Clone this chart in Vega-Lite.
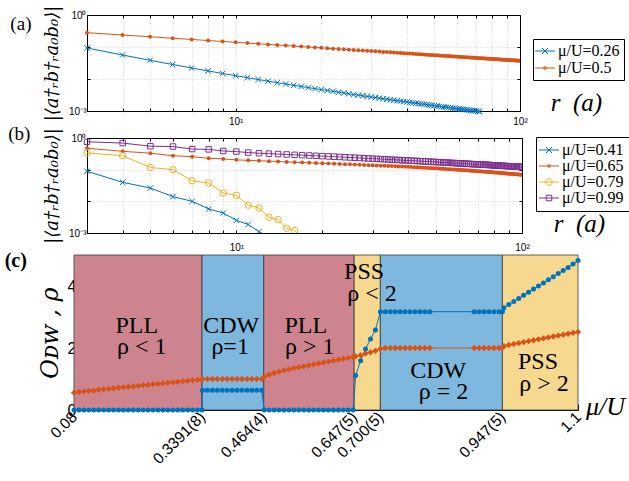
{
"$schema":"https://vega.github.io/schema/vega-lite/v6.json",
"padding":{"left":4,"top":5,"right":0,"bottom":0},
"bounds":"flush",
"spacing":22,
"resolve":{"scale":{"color":"independent","shape":"independent","fill":"independent","x":"independent","y":"independent"},"legend":{"color":"independent","shape":"independent","fill":"independent"}},
"config":{"view":{"stroke":null},"font":"Liberation Sans","axis":{"domainColor":"black","tickColor":"black","labelColor":"black","titleColor":"black","titleFontWeight":"normal","zindex":1}},
"datasets":{
"a":[
{"s":"0.26","r":3,"v":0.0933},{"s":"0.26","r":4,"v":0.0562},{"s":"0.26","r":5,"v":0.0384},{"s":"0.26","r":6,"v":0.0284},{"s":"0.26","r":7,"v":0.0221},{"s":"0.26","r":8,"v":0.0179},{"s":"0.26","r":9,"v":0.0149},{"s":"0.26","r":10,"v":0.0127},{"s":"0.26","r":11,"v":0.0110},{"s":"0.26","r":12,"v":0.00964},{"s":"0.26","r":13,"v":0.00857},{"s":"0.26","r":14,"v":0.00769},{"s":"0.26","r":15,"v":0.00697},{"s":"0.26","r":16,"v":0.00636},{"s":"0.26","r":17,"v":0.00584},{"s":"0.26","r":18,"v":0.00539},{"s":"0.26","r":19,"v":0.00500},{"s":"0.26","r":20,"v":0.00466},{"s":"0.26","r":21,"v":0.00436},{"s":"0.26","r":22,"v":0.00410},{"s":"0.26","r":23,"v":0.00386},{"s":"0.26","r":24,"v":0.00365},{"s":"0.26","r":25,"v":0.00346},{"s":"0.26","r":26,"v":0.00328},{"s":"0.26","r":27,"v":0.00313},{"s":"0.26","r":28,"v":0.00298},{"s":"0.26","r":29,"v":0.00285},{"s":"0.26","r":30,"v":0.00273},{"s":"0.26","r":31,"v":0.00262},{"s":"0.26","r":32,"v":0.00252},{"s":"0.26","r":33,"v":0.00242},{"s":"0.26","r":34,"v":0.00233},{"s":"0.26","r":35,"v":0.00225},{"s":"0.26","r":36,"v":0.00217},{"s":"0.26","r":37,"v":0.00210},{"s":"0.26","r":38,"v":0.00203},{"s":"0.26","r":39,"v":0.00197},{"s":"0.26","r":40,"v":0.00191},{"s":"0.26","r":41,"v":0.00185},{"s":"0.26","r":42,"v":0.00180},{"s":"0.26","r":43,"v":0.00175},{"s":"0.26","r":44,"v":0.00170},{"s":"0.26","r":45,"v":0.00166},{"s":"0.26","r":46,"v":0.00162},{"s":"0.26","r":47,"v":0.00158},{"s":"0.26","r":48,"v":0.00154},{"s":"0.26","r":49,"v":0.00150},{"s":"0.26","r":50,"v":0.00147},{"s":"0.26","r":51,"v":0.00143},{"s":"0.26","r":52,"v":0.00140},{"s":"0.26","r":53,"v":0.00137},{"s":"0.26","r":54,"v":0.00134},{"s":"0.26","r":55,"v":0.00131},{"s":"0.26","r":56,"v":0.00129},{"s":"0.26","r":57,"v":0.00126},{"s":"0.26","r":58,"v":0.00124},{"s":"0.26","r":59,"v":0.00121},{"s":"0.26","r":60,"v":0.00119},{"s":"0.26","r":61,"v":0.00117},{"s":"0.26","r":62,"v":0.00115},{"s":"0.26","r":63,"v":0.00113},{"s":"0.26","r":64,"v":0.00111},{"s":"0.26","r":65,"v":0.00109},{"s":"0.26","r":66,"v":0.00107},{"s":"0.26","r":67,"v":0.00105},{"s":"0.26","r":68,"v":0.00104},{"s":"0.26","r":69,"v":0.00102},{"s":"0.26","r":70,"v":0.001005},{"s":"0.26","r":71,"v":0.00099},{"s":"0.26","r":72,"v":0.000975},
{"s":"0.5","r":3,"v":0.280},{"s":"0.5","r":4,"v":0.237},{"s":"0.5","r":5,"v":0.209},{"s":"0.5","r":6,"v":0.188},{"s":"0.5","r":7,"v":0.172},{"s":"0.5","r":8,"v":0.159},{"s":"0.5","r":9,"v":0.149},{"s":"0.5","r":10,"v":0.140},{"s":"0.5","r":11,"v":0.1325},{"s":"0.5","r":12,"v":0.126},{"s":"0.5","r":13,"v":0.1204},{"s":"0.5","r":14,"v":0.1153},{"s":"0.5","r":15,"v":0.1108},{"s":"0.5","r":16,"v":0.1068},{"s":"0.5","r":17,"v":0.1031},{"s":"0.5","r":18,"v":0.0998},{"s":"0.5","r":19,"v":0.0967},{"s":"0.5","r":20,"v":0.0939},{"s":"0.5","r":21,"v":0.0913},{"s":"0.5","r":22,"v":0.0889},{"s":"0.5","r":23,"v":0.0867},{"s":"0.5","r":24,"v":0.0846},{"s":"0.5","r":25,"v":0.0826},{"s":"0.5","r":26,"v":0.0808},{"s":"0.5","r":27,"v":0.0790},{"s":"0.5","r":28,"v":0.0774},{"s":"0.5","r":29,"v":0.0758},{"s":"0.5","r":30,"v":0.0744},{"s":"0.5","r":31,"v":0.0730},{"s":"0.5","r":32,"v":0.0717},{"s":"0.5","r":33,"v":0.0704},{"s":"0.5","r":34,"v":0.0692},{"s":"0.5","r":35,"v":0.0680},{"s":"0.5","r":36,"v":0.0670},{"s":"0.5","r":37,"v":0.0659},{"s":"0.5","r":38,"v":0.0649},{"s":"0.5","r":39,"v":0.0639},{"s":"0.5","r":40,"v":0.0630},{"s":"0.5","r":41,"v":0.0621},{"s":"0.5","r":42,"v":0.0613},{"s":"0.5","r":43,"v":0.0604},{"s":"0.5","r":44,"v":0.0596},{"s":"0.5","r":45,"v":0.0589},{"s":"0.5","r":46,"v":0.0581},{"s":"0.5","r":47,"v":0.0574},{"s":"0.5","r":48,"v":0.0567},{"s":"0.5","r":49,"v":0.0560},{"s":"0.5","r":50,"v":0.0554},{"s":"0.5","r":51,"v":0.0548},{"s":"0.5","r":52,"v":0.0542},{"s":"0.5","r":53,"v":0.0536},{"s":"0.5","r":54,"v":0.0530},{"s":"0.5","r":55,"v":0.0524},{"s":"0.5","r":56,"v":0.0519},{"s":"0.5","r":57,"v":0.0514},{"s":"0.5","r":58,"v":0.0509},{"s":"0.5","r":59,"v":0.0504},{"s":"0.5","r":60,"v":0.0499},{"s":"0.5","r":61,"v":0.0494},{"s":"0.5","r":62,"v":0.0489},{"s":"0.5","r":63,"v":0.0485},{"s":"0.5","r":64,"v":0.0480},{"s":"0.5","r":65,"v":0.0476},{"s":"0.5","r":66,"v":0.0472},{"s":"0.5","r":67,"v":0.0468},{"s":"0.5","r":68,"v":0.0464},{"s":"0.5","r":69,"v":0.0460},{"s":"0.5","r":70,"v":0.0456},{"s":"0.5","r":71,"v":0.0453},{"s":"0.5","r":72,"v":0.0449},{"s":"0.5","r":73,"v":0.0445},{"s":"0.5","r":74,"v":0.0442},{"s":"0.5","r":75,"v":0.0439},{"s":"0.5","r":76,"v":0.0435},{"s":"0.5","r":77,"v":0.0432},{"s":"0.5","r":78,"v":0.0429},{"s":"0.5","r":79,"v":0.0426},{"s":"0.5","r":80,"v":0.0423},{"s":"0.5","r":81,"v":0.0420},{"s":"0.5","r":82,"v":0.0417},{"s":"0.5","r":83,"v":0.0414},{"s":"0.5","r":84,"v":0.0411},{"s":"0.5","r":85,"v":0.0408},{"s":"0.5","r":86,"v":0.0405},{"s":"0.5","r":87,"v":0.0403},{"s":"0.5","r":88,"v":0.0400},{"s":"0.5","r":89,"v":0.0397},{"s":"0.5","r":90,"v":0.0395},{"s":"0.5","r":91,"v":0.0392},{"s":"0.5","r":92,"v":0.0390},{"s":"0.5","r":93,"v":0.0388},{"s":"0.5","r":94,"v":0.0385},{"s":"0.5","r":95,"v":0.0383},{"s":"0.5","r":96,"v":0.0381},{"s":"0.5","r":97,"v":0.0378},{"s":"0.5","r":98,"v":0.0376},{"s":"0.5","r":99,"v":0.0374},{"s":"0.5","r":100,"v":0.0372}
],
"b":[
{"s":"0.41","r":3,"v":0.0891},{"s":"0.41","r":4,"v":0.0398},{"s":"0.41","r":5,"v":0.0263},{"s":"0.41","r":6,"v":0.0141},{"s":"0.41","r":7,"v":0.0100},{"s":"0.41","r":8,"v":0.00575},{"s":"0.41","r":9,"v":0.00427},{"s":"0.41","r":10,"v":0.00251},{"s":"0.41","r":11,"v":0.00186},{"s":"0.41","r":12,"v":0.00110},{"s":"0.41","r":13,"v":0.000759},{"s":"0.41","r":14,"v":0.000562},
{"s":"0.65","r":3,"v":0.473},{"s":"0.65","r":4,"v":0.380},{"s":"0.65","r":5,"v":0.331},{"s":"0.65","r":6,"v":0.275},{"s":"0.65","r":7,"v":0.257},{"s":"0.65","r":8,"v":0.229},{"s":"0.65","r":9,"v":0.219},{"s":"0.65","r":10,"v":0.204},{"s":"0.65","r":11,"v":0.197},{"s":"0.65","r":12,"v":0.191},{"s":"0.65","r":13,"v":0.186},{"s":"0.65","r":14,"v":0.181},{"s":"0.65","r":15,"v":0.176},{"s":"0.65","r":16,"v":0.172},{"s":"0.65","r":17,"v":0.169},{"s":"0.65","r":18,"v":0.165},{"s":"0.65","r":19,"v":0.162},{"s":"0.65","r":20,"v":0.159},{"s":"0.65","r":21,"v":0.156},{"s":"0.65","r":22,"v":0.154},{"s":"0.65","r":23,"v":0.151},{"s":"0.65","r":24,"v":0.149},{"s":"0.65","r":25,"v":0.147},{"s":"0.65","r":26,"v":0.145},{"s":"0.65","r":27,"v":0.143},{"s":"0.65","r":28,"v":0.141},{"s":"0.65","r":29,"v":0.139},{"s":"0.65","r":30,"v":0.137},{"s":"0.65","r":31,"v":0.136},{"s":"0.65","r":32,"v":0.134},{"s":"0.65","r":33,"v":0.133},{"s":"0.65","r":34,"v":0.131},{"s":"0.65","r":35,"v":0.130},{"s":"0.65","r":36,"v":0.128},{"s":"0.65","r":37,"v":0.127},{"s":"0.65","r":38,"v":0.125},{"s":"0.65","r":39,"v":0.124},{"s":"0.65","r":40,"v":0.123},{"s":"0.65","r":41,"v":0.121},{"s":"0.65","r":42,"v":0.120},{"s":"0.65","r":43,"v":0.119},{"s":"0.65","r":44,"v":0.117},{"s":"0.65","r":45,"v":0.116},{"s":"0.65","r":46,"v":0.115},{"s":"0.65","r":47,"v":0.113},{"s":"0.65","r":48,"v":0.112},{"s":"0.65","r":49,"v":0.111},{"s":"0.65","r":50,"v":0.110},{"s":"0.65","r":51,"v":0.109},{"s":"0.65","r":52,"v":0.107},{"s":"0.65","r":53,"v":0.106},{"s":"0.65","r":54,"v":0.105},{"s":"0.65","r":55,"v":0.104},{"s":"0.65","r":56,"v":0.103},{"s":"0.65","r":57,"v":0.102},{"s":"0.65","r":58,"v":0.101},{"s":"0.65","r":59,"v":0.0999},{"s":"0.65","r":60,"v":0.0989},{"s":"0.65","r":61,"v":0.0979},{"s":"0.65","r":62,"v":0.0969},{"s":"0.65","r":63,"v":0.0959},{"s":"0.65","r":64,"v":0.0950},{"s":"0.65","r":65,"v":0.0940},{"s":"0.65","r":66,"v":0.0931},{"s":"0.65","r":67,"v":0.0922},{"s":"0.65","r":68,"v":0.0913},{"s":"0.65","r":69,"v":0.0904},{"s":"0.65","r":70,"v":0.0896},{"s":"0.65","r":71,"v":0.0887},{"s":"0.65","r":72,"v":0.0879},{"s":"0.65","r":73,"v":0.0871},{"s":"0.65","r":74,"v":0.0863},{"s":"0.65","r":75,"v":0.0855},{"s":"0.65","r":76,"v":0.0847},{"s":"0.65","r":77,"v":0.0839},{"s":"0.65","r":78,"v":0.0831},{"s":"0.65","r":79,"v":0.0823},{"s":"0.65","r":80,"v":0.0816},{"s":"0.65","r":81,"v":0.0809},{"s":"0.65","r":82,"v":0.0801},{"s":"0.65","r":83,"v":0.0794},{"s":"0.65","r":84,"v":0.0787},{"s":"0.65","r":85,"v":0.0780},{"s":"0.65","r":86,"v":0.0774},{"s":"0.65","r":87,"v":0.0767},{"s":"0.65","r":88,"v":0.0760},{"s":"0.65","r":89,"v":0.0754},{"s":"0.65","r":90,"v":0.0748},{"s":"0.65","r":91,"v":0.0741},{"s":"0.65","r":92,"v":0.0735},{"s":"0.65","r":93,"v":0.0729},{"s":"0.65","r":94,"v":0.0723},{"s":"0.65","r":95,"v":0.0717},{"s":"0.65","r":96,"v":0.0711},{"s":"0.65","r":97,"v":0.0705},{"s":"0.65","r":98,"v":0.0699},{"s":"0.65","r":99,"v":0.0694},{"s":"0.65","r":100,"v":0.0688},
{"s":"0.79","r":3,"v":0.339},{"s":"0.79","r":4,"v":0.275},{"s":"0.79","r":5,"v":0.1175},{"s":"0.79","r":6,"v":0.100},{"s":"0.79","r":7,"v":0.0447},{"s":"0.79","r":8,"v":0.0380},{"s":"0.79","r":9,"v":0.0182},{"s":"0.79","r":10,"v":0.0155},{"s":"0.79","r":11,"v":0.00759},{"s":"0.79","r":12,"v":0.00617},{"s":"0.79","r":13,"v":0.00316},{"s":"0.79","r":14,"v":0.00263},{"s":"0.79","r":15,"v":0.00141},{"s":"0.79","r":16,"v":0.00120},{"s":"0.79","r":17,"v":0.00063},{"s":"0.79","r":18,"v":0.00054},
{"s":"0.99","r":3,"v":0.759},{"s":"0.99","r":4,"v":0.692},{"s":"0.99","r":5,"v":0.550},{"s":"0.99","r":6,"v":0.537},{"s":"0.99","r":7,"v":0.447},{"s":"0.99","r":8,"v":0.437},{"s":"0.99","r":9,"v":0.389},{"s":"0.99","r":10,"v":0.372},{"s":"0.99","r":11,"v":0.347},{"s":"0.99","r":12,"v":0.331},{"s":"0.99","r":13,"v":0.321},{"s":"0.99","r":14,"v":0.311},{"s":"0.99","r":15,"v":0.302},{"s":"0.99","r":16,"v":0.294},{"s":"0.99","r":17,"v":0.287},{"s":"0.99","r":18,"v":0.280},{"s":"0.99","r":19,"v":0.274},{"s":"0.99","r":20,"v":0.268},{"s":"0.99","r":21,"v":0.262},{"s":"0.99","r":22,"v":0.257},{"s":"0.99","r":23,"v":0.252},{"s":"0.99","r":24,"v":0.247},{"s":"0.99","r":25,"v":0.242},{"s":"0.99","r":26,"v":0.238},{"s":"0.99","r":27,"v":0.234},{"s":"0.99","r":28,"v":0.230},{"s":"0.99","r":29,"v":0.226},{"s":"0.99","r":30,"v":0.223},{"s":"0.99","r":31,"v":0.220},{"s":"0.99","r":32,"v":0.216},{"s":"0.99","r":33,"v":0.213},{"s":"0.99","r":34,"v":0.210},{"s":"0.99","r":35,"v":0.207},{"s":"0.99","r":36,"v":0.205},{"s":"0.99","r":37,"v":0.202},{"s":"0.99","r":38,"v":0.199},{"s":"0.99","r":39,"v":0.197},{"s":"0.99","r":40,"v":0.195},{"s":"0.99","r":41,"v":0.192},{"s":"0.99","r":42,"v":0.190},{"s":"0.99","r":43,"v":0.188},{"s":"0.99","r":44,"v":0.186},{"s":"0.99","r":45,"v":0.184},{"s":"0.99","r":46,"v":0.182},{"s":"0.99","r":47,"v":0.180},{"s":"0.99","r":48,"v":0.178},{"s":"0.99","r":49,"v":0.176},{"s":"0.99","r":50,"v":0.174},{"s":"0.99","r":51,"v":0.173},{"s":"0.99","r":52,"v":0.171},{"s":"0.99","r":53,"v":0.169},{"s":"0.99","r":54,"v":0.168},{"s":"0.99","r":55,"v":0.166},{"s":"0.99","r":56,"v":0.165},{"s":"0.99","r":57,"v":0.163},{"s":"0.99","r":58,"v":0.162},{"s":"0.99","r":59,"v":0.160},{"s":"0.99","r":60,"v":0.159},{"s":"0.99","r":61,"v":0.158},{"s":"0.99","r":62,"v":0.156},{"s":"0.99","r":63,"v":0.155},{"s":"0.99","r":64,"v":0.154},{"s":"0.99","r":65,"v":0.153},{"s":"0.99","r":66,"v":0.151},{"s":"0.99","r":67,"v":0.150},{"s":"0.99","r":68,"v":0.149},{"s":"0.99","r":69,"v":0.148},{"s":"0.99","r":70,"v":0.147},{"s":"0.99","r":71,"v":0.146},{"s":"0.99","r":72,"v":0.145},{"s":"0.99","r":73,"v":0.144},{"s":"0.99","r":74,"v":0.143},{"s":"0.99","r":75,"v":0.142},{"s":"0.99","r":76,"v":0.141},{"s":"0.99","r":77,"v":0.140},{"s":"0.99","r":78,"v":0.139},{"s":"0.99","r":79,"v":0.138},{"s":"0.99","r":80,"v":0.137},{"s":"0.99","r":81,"v":0.136},{"s":"0.99","r":82,"v":0.135},{"s":"0.99","r":83,"v":0.134},{"s":"0.99","r":84,"v":0.133},{"s":"0.99","r":85,"v":0.132},{"s":"0.99","r":86,"v":0.1316},{"s":"0.99","r":87,"v":0.131},{"s":"0.99","r":88,"v":0.130},{"s":"0.99","r":89,"v":0.129},{"s":"0.99","r":90,"v":0.128},{"s":"0.99","r":91,"v":0.1277},{"s":"0.99","r":92,"v":0.127},{"s":"0.99","r":93,"v":0.126},{"s":"0.99","r":94,"v":0.125},{"s":"0.99","r":95,"v":0.1247},{"s":"0.99","r":96,"v":0.124},{"s":"0.99","r":97,"v":0.123},{"s":"0.99","r":98,"v":0.1226},{"s":"0.99","r":99,"v":0.122},{"s":"0.99","r":100,"v":0.121}
],
"c":[
{"m":0.08,"o":0,"p":0.56},{"m":0.09,"o":0,"p":0.58},{"m":0.10,"o":0,"p":0.60},{"m":0.11,"o":0,"p":0.62},{"m":0.12,"o":0,"p":0.63},{"m":0.13,"o":0,"p":0.65},{"m":0.14,"o":0,"p":0.67},{"m":0.15,"o":0,"p":0.68},{"m":0.16,"o":0,"p":0.70},{"m":0.17,"o":0,"p":0.72},{"m":0.18,"o":0,"p":0.73},{"m":0.19,"o":0,"p":0.75},{"m":0.20,"o":0,"p":0.76},{"m":0.21,"o":0,"p":0.78},{"m":0.22,"o":0,"p":0.80},{"m":0.23,"o":0,"p":0.81},{"m":0.24,"o":0,"p":0.83},{"m":0.25,"o":0,"p":0.84},{"m":0.26,"o":0,"p":0.86},{"m":0.27,"o":0,"p":0.88},{"m":0.28,"o":0,"p":0.89},{"m":0.29,"o":0,"p":0.91},{"m":0.30,"o":0,"p":0.93},{"m":0.31,"o":0,"p":0.94},{"m":0.32,"o":0,"p":0.96},{"m":0.33,"o":0,"p":0.97},{"m":0.339,"o":0,"p":0.99},
{"m":0.34,"o":0.64,"p":1.0},{"m":0.35,"o":0.64,"p":1.0},{"m":0.36,"o":0.64,"p":1.0},{"m":0.37,"o":0.64,"p":1.0},{"m":0.38,"o":0.64,"p":1.0},{"m":0.39,"o":0.64,"p":1.0},{"m":0.40,"o":0.64,"p":1.0},{"m":0.41,"o":0.64,"p":1.0},{"m":0.42,"o":0.64,"p":1.0},{"m":0.43,"o":0.64,"p":1.0},{"m":0.44,"o":0.64,"p":1.0},{"m":0.45,"o":0.64,"p":1.0},{"m":0.46,"o":0.64,"p":1.0},
{"m":0.465,"o":0,"p":1.07},{"m":0.475,"o":0,"p":1.14},{"m":0.485,"o":0,"p":1.19},{"m":0.495,"o":0,"p":1.24},{"m":0.505,"o":0,"p":1.28},{"m":0.515,"o":0,"p":1.31},{"m":0.525,"o":0,"p":1.35},{"m":0.535,"o":0,"p":1.38},{"m":0.545,"o":0,"p":1.41},{"m":0.555,"o":0,"p":1.44},{"m":0.565,"o":0,"p":1.47},{"m":0.575,"o":0,"p":1.50},{"m":0.585,"o":0,"p":1.53},{"m":0.595,"o":0,"p":1.56},{"m":0.605,"o":0,"p":1.59},{"m":0.615,"o":0,"p":1.62},{"m":0.625,"o":0,"p":1.65},{"m":0.635,"o":0,"p":1.68},{"m":0.645,"o":0,"p":1.71},
{"m":0.65,"o":1.11,"p":1.73},{"m":0.66,"o":1.59,"p":1.77},{"m":0.67,"o":1.97,"p":1.82},{"m":0.68,"o":2.29,"p":1.86},{"m":0.69,"o":2.58,"p":1.91},{"m":0.70,"o":3.17,"p":1.97},
{"m":0.71,"o":3.17,"p":2.0},{"m":0.72,"o":3.17,"p":2.0},{"m":0.73,"o":3.17,"p":2.0},{"m":0.74,"o":3.17,"p":2.0},{"m":0.75,"o":3.17,"p":2.0},{"m":0.76,"o":3.17,"p":2.0},{"m":0.77,"o":3.17,"p":2.0},{"m":0.78,"o":3.17,"p":2.0},{"m":0.79,"o":3.17,"p":2.0},{"m":0.80,"o":3.17,"p":2.0},
{"m":0.89,"o":3.17,"p":2.0},{"m":0.90,"o":3.17,"p":2.0},{"m":0.91,"o":3.17,"p":2.0},{"m":0.92,"o":3.17,"p":2.0},{"m":0.93,"o":3.17,"p":2.0},{"m":0.94,"o":3.17,"p":2.0},{"m":0.947,"o":3.17,"p":2.01},
{"m":0.95,"o":3.30,"p":2.06},{"m":0.96,"o":3.40,"p":2.10},{"m":0.97,"o":3.50,"p":2.13},{"m":0.98,"o":3.60,"p":2.16},{"m":0.99,"o":3.70,"p":2.19},{"m":1.00,"o":3.80,"p":2.22},{"m":1.01,"o":3.90,"p":2.25},{"m":1.02,"o":4.00,"p":2.28},{"m":1.03,"o":4.10,"p":2.31},{"m":1.04,"o":4.20,"p":2.34},{"m":1.05,"o":4.30,"p":2.37},{"m":1.06,"o":4.40,"p":2.40},{"m":1.07,"o":4.50,"p":2.43},{"m":1.08,"o":4.60,"p":2.46},{"m":1.09,"o":4.71,"p":2.49},{"m":1.10,"o":4.82,"p":2.52}
],
"reg":[{"x0":0.08,"x1":0.3391,"ph":"PLL"},{"x0":0.3391,"x1":0.464,"ph":"CDW"},{"x0":0.464,"x1":0.647,"ph":"PLL"},{"x0":0.647,"x1":0.7,"ph":"PSS"},{"x0":0.7,"x1":0.947,"ph":"CDW"},{"x0":0.947,"x1":1.1,"ph":"PSS"}],
"lab":[{"t":"PLL","m":0.207,"y":2.71},{"t":"ρ < 1","m":0.217,"y":2.03},{"t":"CDW","m":0.398,"y":2.71},{"t":"ρ=1","m":0.396,"y":2.03},{"t":"PLL","m":0.549,"y":2.71},{"t":"ρ > 1","m":0.557,"y":2.03},{"t":"PSS","m":0.667,"y":4.45},{"t":"ρ < 2","m":0.683,"y":3.74},{"t":"CDW","m":0.817,"y":1.26},{"t":"ρ = 2","m":0.828,"y":0.58},{"t":"PSS","m":1.019,"y":1.55},{"t":"ρ > 2","m":1.031,"y":0.84}]
},
"vconcat":[
{
"width":446,"height":101,
"title":{"text":"(a)","orient":"left","angle":0,"anchor":"end","frame":"group","align":"right","baseline":"top","offset":-9,"font":"Liberation Serif","fontSize":19,"fontWeight":"normal","color":"black"},
"data":{"name":"a"},
"resolve":{"axis":{"x":"independent","y":"independent"}},
"layer":[
{"transform":[{"filter":"datum.r==3"}],
"mark":{"type":"point","size":0,"filled":false,"strokeWidth":1,"opacity":1},
"encoding":{
"x":{"field":"r","type":"quantitative","scale":{"type":"log","domain":[3,100],"range":[13,446],"nice":false},"axis":null},
"y":{"field":"v","type":"quantitative","scale":{"type":"log","domain":[0.001,1],"range":[96,0],"nice":false},"axis":null},
"color":{"field":"s","type":"nominal","scale":{"domain":["0.26","0.5"],"range":["#0072BD","#D95319"]},"legend":{"orient":"none","legendX":459,"legendY":24,"title":null,"strokeColor":"black","fillColor":"white","padding":4,"rowPadding":1,"symbolSize":225,"symbolStrokeWidth":1,"symbolOpacity":1,"symbolFillColor":"transparent","labelFont":"Liberation Serif","labelFontSize":16,"labelOffset":5,"labelExpr":"'μ/U=' + datum.label"}},
"shape":{"field":"s","type":"nominal","scale":{"domain":["0.26","0.5"],"range":["M-1.33,0H1.33M-0.4,-0.4L0.4,0.4M-0.4,0.4L0.4,-0.4","M-1.33,0H1.33M-0.18,0A0.18,0.18,0,1,0,0.18,0A0.18,0.18,0,1,0,-0.18,0"]},"legend":{"orient":"none","legendX":459,"legendY":24,"title":null,"strokeColor":"black","fillColor":"white","padding":4,"rowPadding":1,"symbolSize":225,"symbolStrokeWidth":1,"symbolOpacity":1,"symbolFillColor":"transparent","labelFont":"Liberation Serif","labelFontSize":16,"labelOffset":5,"labelExpr":"'μ/U=' + datum.label"}}}},
{"mark":{"type":"line","strokeWidth":1,"clip":true},
"encoding":{
"x":{"field":"r","type":"quantitative","axis":{"values":[3,4,5,6,7,8,9,10,20,30,40,50,60,70,80,90,100],"labelExpr":"datum.value==10?'10¹':datum.value==100?'10²':''","grid":true,"gridColor":"#d0d0d0","gridDash":[1,2],"tickSize":-3,"labelFontSize":10,"labelFlush":false,"labelOverlap":false,"labelPadding":8,"offset":-5,"title":"r\u2002(a)","titleFont":"Liberation Serif","titleFontStyle":"italic","titleFontSize":25,"titleX":502,"titleY":-1,"titleAlign":"center","titleBaseline":"alphabetic"}},
"y":{"field":"v","type":"quantitative","axis":{"values":[0.001,0.01,0.1,1],"labelExpr":"datum.value==1?'10⁰':datum.value==0.001?'10⁻³':''","grid":true,"gridColor":"#d0d0d0","gridDash":[1,2],"tickSize":-3,"labelFontSize":10,"labelFlush":false,"labelOverlap":false,"labelPadding":4,"offset":-13,"title":"|⟨a†ᵣb†ᵣa₀b₀⟩|","titleFont":"DejaVu Serif","titleFontStyle":"italic","titleFontSize":18,"titlePadding":7}},
"color":{"field":"s","type":"nominal"}}},
{"transform":[{"filter":"datum.s=='0.26'"}],
"mark":{"type":"point","shape":"M-1,-1L1,1M-1,1L1,-1","size":30,"filled":false,"strokeWidth":1,"opacity":1,"clip":true},
"encoding":{
"x":{"field":"r","type":"quantitative","axis":{"orient":"top","values":[3,4,5,6,7,8,9,10,20,30,40,50,60,70,80,90,100],"labels":false,"grid":false,"tickSize":-3,"title":null}},
"y":{"field":"v","type":"quantitative","axis":{"orient":"right","values":[0.001,0.01,0.1,1],"labels":false,"grid":false,"tickSize":-3,"title":null}},
"color":{"field":"s","type":"nominal"}}},
{"transform":[{"filter":"datum.s=='0.5'"}],
"mark":{"type":"point","shape":"circle","size":4,"filled":false,"strokeWidth":2,"opacity":1,"clip":true},
"encoding":{
"x":{"field":"r","type":"quantitative","axis":null},
"y":{"field":"v","type":"quantitative","axis":null},
"color":{"field":"s","type":"nominal"}}}
]
},
{
"width":448,"height":95,
"title":{"text":"(b)","orient":"left","angle":0,"anchor":"end","frame":"group","align":"right","baseline":"top","offset":-9,"dy":-13,"font":"Liberation Serif","fontSize":19,"fontWeight":"normal","color":"black"},
"data":{"name":"b"},
"resolve":{"axis":{"x":"independent","y":"independent"}},
"layer":[
{"transform":[{"filter":"datum.r==3"}],
"mark":{"type":"point","size":0,"filled":false,"strokeWidth":1,"opacity":1},
"encoding":{
"x":{"field":"r","type":"quantitative","scale":{"type":"log","domain":[3,100],"range":[13,448],"nice":false},"axis":null},
"y":{"field":"v","type":"quantitative","scale":{"type":"log","domain":[0.001,1],"nice":false},"axis":null},
"color":{"field":"s","type":"nominal","scale":{"domain":["0.41","0.65","0.79","0.99"],"range":["#0072BD","#D95319","#EDB120","#7E2F8E"]},"legend":{"orient":"none","legendX":462,"legendY":-1,"title":null,"strokeColor":"black","fillColor":"white","padding":5,"rowPadding":-1,"symbolSize":225,"symbolStrokeWidth":1,"symbolOpacity":1,"symbolFillColor":"transparent","labelFont":"Liberation Serif","labelFontSize":16,"labelOffset":5,"labelExpr":"'μ/U=' + datum.label"}},
"shape":{"field":"s","type":"nominal","scale":{"domain":["0.41","0.65","0.79","0.99"],"range":["M-1.33,0H1.33M-0.4,-0.4L0.4,0.4M-0.4,0.4L0.4,-0.4","M-1.33,0H1.33M-0.18,0A0.18,0.18,0,1,0,0.18,0A0.18,0.18,0,1,0,-0.18,0","M-1.33,0H1.33M-0.44,0A0.44,0.44,0,1,0,0.44,0A0.44,0.44,0,1,0,-0.44,0","M-1.33,0H1.33M-0.37,-0.37H0.37V0.37H-0.37Z"]},"legend":{"orient":"none","legendX":462,"legendY":-1,"title":null,"strokeColor":"black","fillColor":"white","padding":5,"rowPadding":-1,"symbolSize":225,"symbolStrokeWidth":1,"symbolOpacity":1,"symbolFillColor":"transparent","labelFont":"Liberation Serif","labelFontSize":16,"labelOffset":5,"labelExpr":"'μ/U=' + datum.label"}}}},
{"mark":{"type":"line","strokeWidth":1,"clip":true},
"encoding":{
"x":{"field":"r","type":"quantitative","axis":{"values":[3,4,5,6,7,8,9,10,20,30,40,50,60,70,80,90,100],"labelExpr":"datum.value==10?'10¹':datum.value==100?'10²':''","grid":true,"gridColor":"#d0d0d0","gridDash":[1,2],"tickSize":-3,"labelFontSize":10,"labelFlush":false,"labelOverlap":false,"labelPadding":12,"title":"r\u2002(a)","titleFont":"Liberation Serif","titleFontStyle":"italic","titleFontSize":25,"titleX":505,"titleY":-2,"titleAlign":"center","titleBaseline":"alphabetic"}},
"y":{"field":"v","type":"quantitative","axis":{"values":[0.001,0.01,0.1,1],"labelExpr":"datum.value==1?'10⁰':datum.value==0.001?'10⁻³':''","grid":true,"gridColor":"#d0d0d0","gridDash":[1,2],"tickSize":-3,"labelFontSize":10,"labelFlush":false,"labelOverlap":false,"labelPadding":4,"offset":-13,"title":"|⟨a†ᵣb†ᵣa₀b₀⟩|","titleFont":"DejaVu Serif","titleFontStyle":"italic","titleFontSize":18,"titlePadding":7}},
"color":{"field":"s","type":"nominal"}}},
{"transform":[{"filter":"datum.s=='0.41'"}],
"mark":{"type":"point","shape":"M-1,-1L1,1M-1,1L1,-1","size":30,"filled":false,"strokeWidth":1,"opacity":1,"clip":true},
"encoding":{
"x":{"field":"r","type":"quantitative","axis":{"orient":"top","values":[3,4,5,6,7,8,9,10,20,30,40,50,60,70,80,90,100],"labels":false,"grid":false,"tickSize":-3,"title":null}},
"y":{"field":"v","type":"quantitative","axis":{"orient":"right","values":[0.001,0.01,0.1,1],"labels":false,"grid":false,"tickSize":-3,"title":null}},
"color":{"field":"s","type":"nominal"}}},
{"transform":[{"filter":"datum.s=='0.65'"}],
"mark":{"type":"point","shape":"circle","size":4,"filled":false,"strokeWidth":2,"opacity":1,"clip":true},
"encoding":{"x":{"field":"r","type":"quantitative","axis":null},"y":{"field":"v","type":"quantitative","axis":null},"color":{"field":"s","type":"nominal"}}},
{"transform":[{"filter":"datum.s=='0.79'"}],
"mark":{"type":"point","shape":"circle","size":42,"filled":false,"strokeWidth":1,"opacity":1,"clip":true},
"encoding":{"x":{"field":"r","type":"quantitative","axis":null},"y":{"field":"v","type":"quantitative","axis":null},"color":{"field":"s","type":"nominal"}}},
{"transform":[{"filter":"datum.s=='0.99'"}],
"mark":{"type":"point","shape":"square","size":30,"filled":false,"strokeWidth":1,"opacity":1,"clip":true},
"encoding":{"x":{"field":"r","type":"quantitative","axis":null},"y":{"field":"v","type":"quantitative","axis":null},"color":{"field":"s","type":"nominal"}}}
]
},
{
"width":504,"height":155,
"title":{"text":"(c)","orient":"left","angle":0,"anchor":"end","frame":"group","align":"right","baseline":"top","offset":-11,"dy":-4,"font":"Liberation Serif","fontSize":20,"fontWeight":"bold","color":"black"},
"layer":[
{"data":{"name":"reg"},"mark":{"type":"rect","stroke":"#3a3a3a","strokeWidth":0.8},
"encoding":{
"x":{"field":"x0","type":"quantitative","scale":{"domain":[0.08,1.1],"nice":false,"zero":false},"axis":{"values":[0.08,0.3391,0.464,0.647,0.7,0.947,1.1],"labelExpr":"abs(datum.value-0.08)<1e-6?'0.08':abs(datum.value-0.3391)<1e-6?'0.3391(8)':abs(datum.value-0.464)<1e-6?'0.464(4)':abs(datum.value-0.647)<1e-6?'0.647(5)':abs(datum.value-0.7)<1e-6?'0.700(5)':abs(datum.value-0.947)<1e-6?'0.947(5)':'1.1'","labelAngle":-45,"labelAlign":"right","labelBaseline":"middle","labelFontSize":15.5,"labelPadding":10,"labelFlush":false,"labelOverlap":false,"tickSize":-6,"grid":false,"title":"μ/U","titleFont":"Liberation Serif","titleFontStyle":"italic","titleFontSize":26,"titleX":531,"titleY":4,"titleAlign":"center","titleBaseline":"alphabetic"}},
"x2":{"field":"x1"},
"fill":{"field":"ph","type":"nominal","scale":{"domain":["PLL","CDW","PSS"],"range":["#CD848F","#7FB8DE","#F6D88F"]},"legend":null}}},
{"data":{"name":"c"},"mark":{"type":"line","color":"#0072BD","strokeWidth":1},
"encoding":{"x":{"field":"m","type":"quantitative"},"y":{"field":"o","type":"quantitative","scale":{"domain":[0,5],"nice":false},"axis":{"values":[0,2,4],"labelFontSize":16,"tickSize":-6,"labelPadding":4,"grid":false,"title":"Oᴅᴡ , ρ","titleFont":"DejaVu Serif","titleFontStyle":"italic","titleFontSize":24,"titlePadding":5}}}},
{"data":{"name":"c"},"mark":{"type":"point","shape":"circle","filled":true,"size":25,"color":"#0072BD","opacity":1},
"encoding":{"x":{"field":"m","type":"quantitative"},"y":{"field":"o","type":"quantitative"}}},
{"data":{"name":"c"},"mark":{"type":"line","color":"#D95319","strokeWidth":1},
"encoding":{"x":{"field":"m","type":"quantitative"},"y":{"field":"p","type":"quantitative"}}},
{"data":{"name":"c"},"mark":{"type":"point","shape":"diamond","filled":true,"size":40,"color":"#D95319","opacity":1},
"encoding":{"x":{"field":"m","type":"quantitative"},"y":{"field":"p","type":"quantitative"}}},
{"data":{"name":"lab"},"mark":{"type":"text","font":"Liberation Serif","fontSize":24,"color":"black"},
"encoding":{"x":{"field":"m","type":"quantitative"},"y":{"field":"y","type":"quantitative"},"text":{"field":"t"}}}
]
}
]
}
